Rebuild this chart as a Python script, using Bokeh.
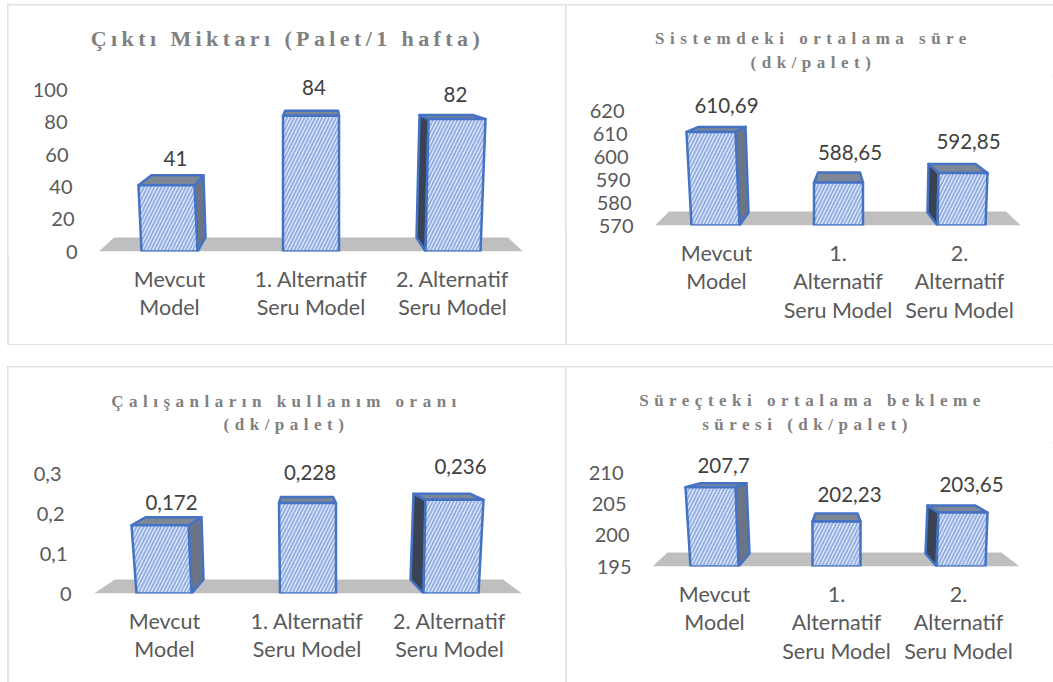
from bokeh.plotting import figure
from bokeh.layouts import column, row
from bokeh.models import ColumnDataSource, FixedTicker, Range1d
from bokeh.core.properties import value
from bokeh.embed import file_html
from bokeh.resources import INLINE

cat_two = ["Mevcut\nModel", "1. Alternatif\nSeru Model", "2. Alternatif\nSeru Model"]
cat_three = ["Mevcut\nModel", "1.\nAlternatif\nSeru Model", "2.\nAlternatif\nSeru Model"]

output_values = [41, 84, 82]
output_labels = ["41", "84", "82"]
output_ticks = [0, 20, 40, 60, 80, 100]
output_tick_labels = ["0", "20", "40", "60", "80", "100"]

system_values = [610.69, 588.65, 592.85]
system_labels = ["610,69", "588,65", "592,85"]
system_ticks = [570, 580, 590, 600, 610, 620]
system_tick_labels = ["570", "580", "590", "600", "610", "620"]

usage_values = [0.172, 0.228, 0.236]
usage_labels = ["0,172", "0,228", "0,236"]
usage_ticks = [0, 0.1, 0.2, 0.3]
usage_tick_labels = ["0", "0,1", "0,2", "0,3"]

wait_values = [207.7, 202.23, 203.65]
wait_labels = ["207,7", "202,23", "203,65"]
wait_ticks = [195, 200, 205, 210]
wait_tick_labels = ["195", "200", "205", "210"]

FONT = "Lato"
TITLE_FONT = "Liberation Serif"
EDGE = "#4472c4"

# ftl, ftr, fbl, fbr, btl, btr, rise, side_x, side_rise
SHAPES = {
    "p1": [(-31, 25, -28, 28, -18, 34, 10, 36, 14), (-28, 28, -28, 28, -26, 27, 5, None, 0), (-24, 33, -27, 28, -33, 21, 4, -36, 14)],
    "p2": [(-30, 19, -25, 23, -18, 29, 5, 32, 13), (-24, 25, -24, 25, -20, 22, 10, None, 0), (-21, 28, -22, 26, -31, 16, 9, -32, 13)],
    "p3": [(-33, 24, -28, 27, -19, 37, 8, 39, 14), (-28, 29, -27, 29, -26, 26, 6, None, 0), (-24, 34, -26, 29, -36, 21, 6, -39, 14)],
    "p4": [(-29, 21, -24, 24, -14, 32, 4, 35, 13), (-24, 24, -24, 24, -21, 21, 8, None, 0), (-20, 29, -22, 27, -31, 17, 7, -33, 13)],
}


def panel(key, title_lines, title_size, title_h, left, top, width, height, base_px, unit_px, base_val,
          cx, cats, vals, labels, ticks, tick_labels, tick_right, label_off, floor, title_x, title_y, margin):
    plot_h = height - title_h
    frame_h = base_px - (top + title_h)
    step = (cx[2] - cx[0]) / 2
    start = -(cx[0] - left) / step

    tf = figure(width=width, height=title_h, output_backend="svg", toolbar_location=None,
                x_range=(left, left + width), y_range=(top + title_h, top), min_border=0,
                outline_line_color=None, styles={"letter-spacing": "%gpx" % title_size[1]})
    tf.xaxis.visible = False
    tf.yaxis.visible = False
    tf.grid.visible = False
    # letter-spacing widens each line to the right of where it is anchored, so centre it by half of that
    tf.text([title_x - len(t) * title_size[1] / 2 for t in title_lines], title_y, text=title_lines,
            text_align="center", text_baseline="middle",
            text_font=value(TITLE_FONT), text_font_size="%gpx" % title_size[0], text_font_style="bold",
            text_color="#808080")

    p = figure(width=width, height=plot_h, output_backend="svg", toolbar_location=None,
               x_range=Range1d(start, start + width / step),
               y_range=Range1d(base_val, base_val + frame_h / unit_px),
               min_border_left=0, min_border_right=0, min_border_top=0,
               min_border_bottom=plot_h - frame_h, outline_line_color=None)
    p.grid.visible = False
    p.yaxis.visible = False
    ax = p.xaxis[0]
    ax.ticker = FixedTicker(ticks=[0, 1, 2])
    ax.major_label_overrides = {i: c for i, c in enumerate(cats)}
    ax.axis_line_color = None
    ax.major_tick_line_color = None
    ax.minor_tick_line_color = None
    ax.major_label_standoff = 8
    ax.major_label_text_font = FONT
    ax.major_label_text_font_size = "21.5px"
    ax.major_label_text_color = "#595959"
    ax.major_label_text_line_height = 1.1

    px = lambda c, d: c + d / step
    py = lambda v, d: v + d / unit_px

    bl, br, tl_, tr_ = floor
    p.patch([px(1, bl), px(1, br), px(1, tr_), px(1, tl_)],
            [base_val, base_val, py(base_val, 14), py(base_val, 14)], fill_color="#bfbfbf", line_color=None)

    for i, v in enumerate(vals):
        ftl, ftr, fbl, fbr, btl, btr, rise, sx, srise = SHAPES[key][i]
        if sx is not None:
            if sx > 0:
                xs = [px(i, ftr), px(i, btr), px(i, sx), px(i, fbr)]
                col = "#6b7585"
            else:
                xs = [px(i, ftl), px(i, btl), px(i, sx), px(i, fbl)]
                col = "#3a4354"
            ys = [v, py(v, rise), py(base_val, srise), base_val]
            p.patch(xs, ys, fill_color=col, line_color=EDGE, line_width=2.5, line_join="round")
        p.patch([px(i, ftl), px(i, btl), px(i, btr), px(i, ftr)], [v, py(v, rise), py(v, rise), v],
                fill_color="#7d8796", line_color=EDGE, line_width=2.5, line_join="round")
        p.patch([px(i, ftl), px(i, ftr), px(i, fbr), px(i, fbl)], [v, v, base_val, base_val],
                fill_color="#e6edf9", hatch_pattern="right_diagonal_line", hatch_color="#94b0e4",
                hatch_scale=7, hatch_weight=2, line_color=EDGE, line_width=2.5, line_join="round")

    lab = ColumnDataSource(dict(
        x=list(range(3)), y=vals, t=labels,
        xo=[o[0] for o in label_off], yo=[-o[1] for o in label_off]))
    p.text("x", "y", text="t", source=lab, x_offset="xo", y_offset="yo", text_align="center",
           text_baseline="middle", text_font=value(FONT), text_font_size="20.5px", text_color="#404040",
           level="overlay")

    tk = ColumnDataSource(dict(x=[start] * len(ticks), y=ticks, t=tick_labels,
                               xo=[r - left for r in tick_right]))
    p.text("x", "y", text="t", source=tk, x_offset="xo", text_align="right", text_baseline="middle",
           text_font=value(FONT), text_font_size="20px", text_color="#595959", level="overlay")

    return column(tf, p, spacing=0, width=width, height=height, margin=margin,
                  styles={"outline": "2px solid #e2e2e2", "outline-offset": "-1px"})


a = panel("p1", ["Çıktı Miktarı (Palet/1 hafta)"], (22, 4.4), 70, 8, 5, 558, 339, 251, 1.615, 0,
          [169, 310, 452], cat_two, output_values, output_labels, output_ticks, output_tick_labels,
          [77, 74, 72, 68, 67, 67], [(6, 27), (3, 28), (3, 25)], (-212, 212, -197, 197), 287, [38],
          (5, 0, 23, 8))
b = panel("p2", ["Sistemdeki ortalama süre", "(dk/palet)"], (17, 5.5), 70, 566, 5, 487, 339, 225, 2.3, 570,
          [716, 837, 959], cat_three, system_values, system_labels, system_ticks, system_tick_labels,
          [633, 631, 630, 628, 627, 624], [(10, 26), (12, 30), (9, 31)], (-183, 183, -169, 168), 813, [38, 62],
          (5, 0, 23, 0))
c = panel("p3", ["Çalışanların kullanım oranı", "(dk/palet)"], (17, 5.5), 75, 8, 367, 558, 315, 593, 397, 0,
          [164, 306, 449], cat_two, usage_values, usage_labels, usage_ticks, usage_tick_labels,
          [71, 67, 64, 61], [(7, 23), (3, 30), (11, 33)], (-213, 215, -192, 196), 286, [401, 424],
          (0, 0, 0, 8))
d = panel("p4", ["Süreçteki ortalama bekleme", "süresi  (dk/palet)"], (17, 5.5), 75, 566, 367, 487, 315, 566, 6.24, 195,
          [714, 837, 958], cat_three, wait_values, wait_labels, wait_ticks, wait_tick_labels,
          [631, 629, 626, 623], [(9, 22), (13, 27), (13, 28)], (-184, 183, -169, 165), 812, [400, 424],
          (0, 0, 0, 0))

root = column(row(a, b, spacing=0), row(c, d, spacing=0), spacing=0,
              styles={"position": "absolute", "left": "0px", "top": "0px"})
open("out.html", "w").write(file_html(root, INLINE))
